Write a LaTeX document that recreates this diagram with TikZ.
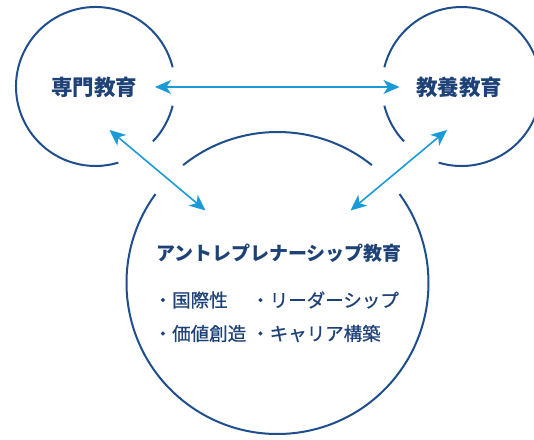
\documentclass[tikz,border=0pt]{standalone}
\usepackage{fontspec}
\newfontfamily\cjk{Noto Sans CJK JP}
\newfontfamily\cjki[FakeBold=0.8]{Noto Sans CJK JP}
\usetikzlibrary{arrows.meta}
\definecolor{ringc}{HTML}{1F4E8C}
\definecolor{arrowc}{HTML}{1A9AD6}
\definecolor{textc}{HTML}{1E4278}
\tikzset{
  ring/.style={draw=ringc, line width=2pt},
  link/.style={draw=arrowc, line width=1.6pt, {Stealth[length=16pt,width=14pt,inset=4.5pt]}-{Stealth[length=16pt,width=14pt,inset=4.5pt]}},
  label/.style={text=textc, inner sep=0pt, font=\cjk},
  item/.style={label, font=\cjki\fontsize{18.5}{21}\selectfont, anchor=west},
}
\begin{document}
\begin{tikzpicture}[x=1pt,y=1pt]
\useasboundingbox (0,0) rectangle (534,439);
\clip (0,0) rectangle (534,439);
% centres
\coordinate (cL) at (95.5,352.5);
\coordinate (cR) at (461.5,352.5);
\coordinate (cB) at (277.5,156);
% circles with gaps
\draw[ring] (cL) ++(14:79.5) arc[start angle=14, end angle=286.7, radius=79.5];
\draw[ring] (cL) ++(-43.7:79.5) arc[start angle=-43.7, end angle=-14, radius=79.5];
\draw[ring] (cR) ++(-106.7:79.5) arc[start angle=-106.7, end angle=166, radius=79.5];
\draw[ring] (cR) ++(194:79.5) arc[start angle=194, end angle=223.7, radius=79.5];
\draw[ring] (cB) ++(51.3:151) arc[start angle=51.3, end angle=128.7, radius=151];
\draw[ring] (cB) ++(143.9:151) arc[start angle=143.9, end angle=396.1, radius=151];
% texts
\node[label, font=\cjk\bfseries\fontsize{21.5}{24}\selectfont] (ltext) at (94,352) {専門教育};
\node[label, font=\cjk\bfseries\fontsize{21.5}{24}\selectfont] (rtext) at (459,352) {教養教育};
\node[label, font=\cjk\bfseries\fontsize{19}{22}\selectfont] (btitle) at (279,186) {アントレプレナーシップ教育};
\node[item] (i1) at (153.5,139) {・国際性};
\node[item] (i2) at (251,139) {・リーダーシップ};
\node[item] (i3) at (153.5,105.5) {・価値創造};
\node[item] (i4) at (251,105.5) {・キャリア構築};
% arrow ends
\coordinate (hL) at (155,352);
\coordinate (hR) at (399.5,352);
\coordinate (dLa) at (109.5,309);
\coordinate (dLb) at (205.5,228.5);
\coordinate (dRa) at (447,309);
\coordinate (dRb) at (350.5,228.5);
\draw[link] (hL) -- (hR);
\draw[link] (dLa) -- (dLb);
\draw[link] (dRa) -- (dRb);
\end{tikzpicture}
\end{document}
